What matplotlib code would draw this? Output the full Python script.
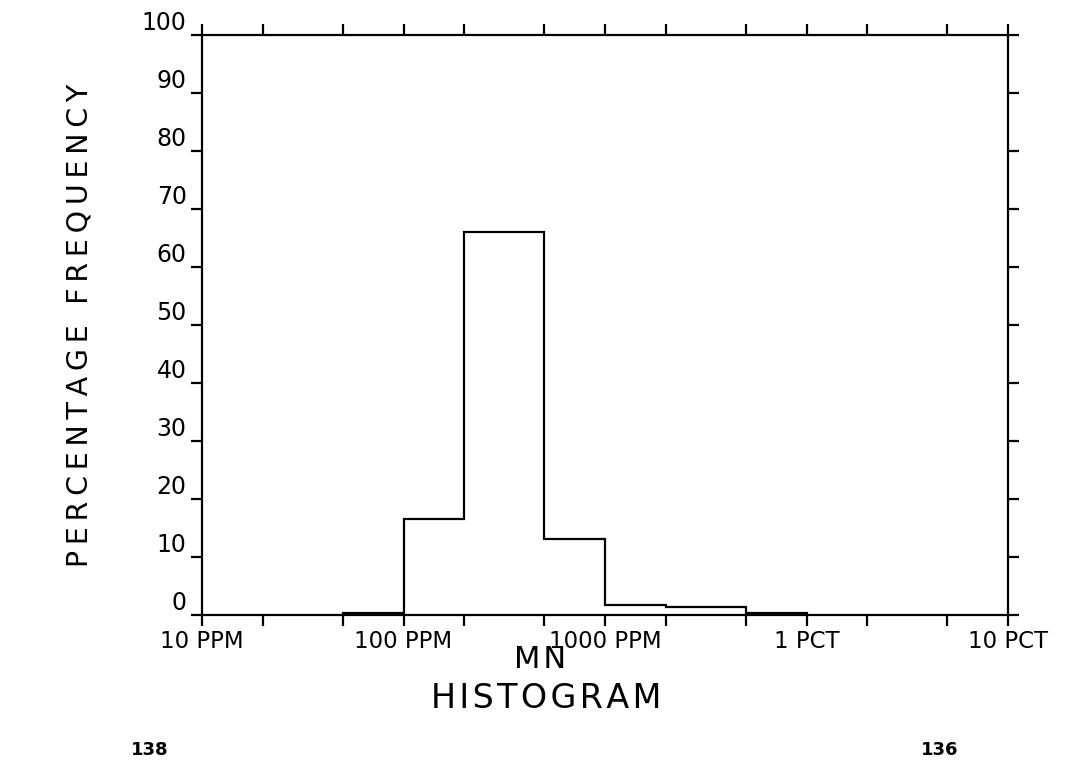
import numpy as np
import matplotlib
matplotlib.use("Agg")
import matplotlib.pyplot as plt

# histogram bin edges (ppm) and percentage frequency per bin
bin_edges = [50, 100, 200, 500, 1000, 2000, 5000, 10000]
pct_freq = [0.4, 16.5, 66.0, 13.1, 1.8, 1.4, 0.35]

major_ticks = [10, 100, 1000, 10000, 100000]
major_labels = ["10 PPM", "100 PPM", "1000 PPM", "1 PCT", "10 PCT"]
minor_ticks = [20, 50, 200, 500, 2000, 5000, 20000, 50000]
y_ticks = list(range(0, 101, 10))

plt.rcParams['font.family'] = ['DejaVu Sans']

fig = plt.figure(figsize=(10.82, 7.61), dpi=100)
ax = fig.add_axes([202 / 1082, 1 - 615 / 761, (1008 - 202) / 1082, (615 - 35) / 761])

# outline of histogram as a step
xs = [bin_edges[0]]
ys = [0]
for i, v in enumerate(pct_freq):
    xs += [bin_edges[i], bin_edges[i + 1]]
    ys += [v, v]
xs.append(bin_edges[-1])
ys.append(0)
ax.plot(xs, ys, color="black", lw=1.6, solid_joinstyle="miter")

ax.set_xscale("log")
ax.set_xlim(10, 100000)
ax.set_ylim(0, 100)

for s in ax.spines.values():
    s.set_linewidth(1.6)

ax.set_xticks(major_ticks)
ax.set_xticklabels(major_labels, fontsize=16.5)
ax.set_xticks(minor_ticks, minor=True)
ax.xaxis.set_minor_formatter(plt.NullFormatter())
ax.tick_params(axis="x", which="both", direction="out", length=8, width=1.6,
               top=True, pad=3)
ax.set_yticks(y_ticks)
ax.set_yticklabels([str(t) for t in y_ticks], fontsize=17)
for lab in ax.get_yticklabels():
    lab.set_verticalalignment("bottom")
ax.tick_params(axis="y", direction="out", length=8, width=1.6, right=True, pad=3)

def spaced(s, sep="\u2009"):
    return sep.join(s)

ax.set_ylabel(spaced("PERCENTAGE FREQUENCY"), fontsize=20.5, labelpad=35)

fig.text(540 / 1082, 1 - 660 / 761, spaced("MN", "\u200a"), ha="center", va="center", fontsize=22)
fig.text(546 / 1082, 1 - 698 / 761, spaced("HISTOGRAM", "\u200a"), ha="center", va="center", fontsize=24)
fig.text(150 / 1082, 0.002, "138", ha="center", va="bottom", fontsize=13, fontweight="bold")
fig.text(940 / 1082, 0.002, "136", ha="center", va="bottom", fontsize=13, fontweight="bold")

fig.savefig("out.png", dpi=100)
